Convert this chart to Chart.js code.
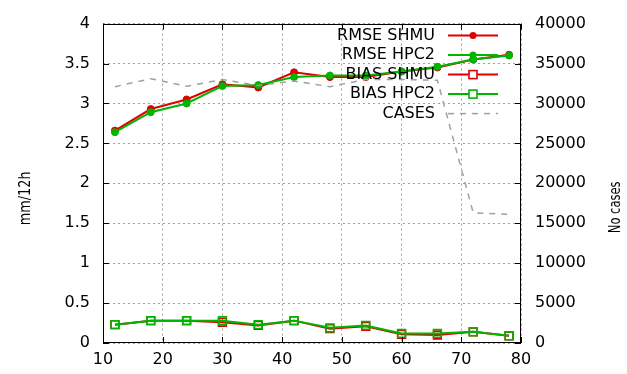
<!DOCTYPE html>
<html>
<head>
<meta charset="utf-8">
<script src="https://cdn.jsdelivr.net/npm/chart.js@4.4.1/dist/chart.umd.min.js"></script>
<style>
  html, body { margin: 0; padding: 0; background: #fff; }
  #wrap { width: 627px; height: 374px; }
</style>
</head>
<body>
<div id="wrap"><canvas id="c" width="627" height="374"></canvas></div>
<script>
const forecastHours = [12, 18, 24, 30, 36, 42, 48, 54, 60, 66, 72, 78];
const rmseShmu = [2.66, 2.93, 3.05, 3.24, 3.20, 3.39, 3.33, 3.33, 3.40, 3.45, 3.55, 3.61];
const rmseHpc2 = [2.64, 2.89, 3.00, 3.22, 3.23, 3.33, 3.35, 3.35, 3.40, 3.46, 3.55, 3.60];
const biasShmu = [0.23, 0.28, 0.28, 0.26, 0.22, 0.28, 0.18, 0.21, 0.11, 0.10, 0.14, 0.09];
const biasHpc2 = [0.23, 0.28, 0.28, 0.28, 0.23, 0.28, 0.19, 0.22, 0.12, 0.12, 0.14, 0.09];
const cases = [32100, 33100, 32150, 33000, 32250, 32800, 32100, 33000, 33000, 32900, 16300, 16100];
const seriesNames = ['RMSE SHMU', 'RMSE HPC2', 'BIAS SHMU', 'BIAS HPC2', 'CASES'];
const xTicks = [10, 20, 30, 40, 50, 60, 70, 80];
const yTicks = [0, 0.5, 1, 1.5, 2, 2.5, 3, 3.5, 4];
const y2Ticks = [0, 5000, 10000, 15000, 20000, 25000, 30000, 35000, 40000];
const yTitle = 'mm/12h';
const y2Title = 'No cases';

const RED = '#e00000', GREEN = '#00b400', GREY = '#a0a0a0';
const FONT = 'DejaVu Sans';

function pts(arr) { return forecastHours.map((x, i) => ({ x: x, y: arr[i] })); }

const styles = [
  { color: RED, point: 'circle', fill: RED, radius: 3.5, axis: 'y', dash: [] },
  { color: GREEN, point: 'circle', fill: GREEN, radius: 3.5, axis: 'y', dash: [] },
  { color: RED, point: 'rect', fill: 'rgba(0,0,0,0)', radius: 5.5, axis: 'y', dash: [] },
  { color: GREEN, point: 'rect', fill: 'rgba(0,0,0,0)', radius: 5.5, axis: 'y', dash: [] },
  { color: GREY, point: false, fill: GREY, radius: 0, axis: 'y2', dash: [6, 6] }
];
const seriesData = [rmseShmu, rmseHpc2, biasShmu, biasHpc2, cases];

const datasets = seriesNames.map((name, i) => ({
  label: name,
  data: pts(seriesData[i]),
  yAxisID: styles[i].axis,
  borderColor: styles[i].color,
  backgroundColor: styles[i].fill,
  borderWidth: i === 4 ? 1.5 : 2,
  borderDash: styles[i].dash,
  pointStyle: styles[i].point,
  pointRadius: styles[i].radius,
  pointBorderWidth: i >= 2 ? 1.6 : 1,
  pointBorderColor: styles[i].color,
  pointBackgroundColor: styles[i].fill,
  tension: 0,
  order: 5 - i
}));

const gnuplotDecor = {
  id: 'gnuplotDecor',
  afterDatasetsDraw(chart) {
    const ctx = chart.ctx;
    const a = chart.chartArea;
    const sx = chart.scales.x, sy = chart.scales.y, sy2 = chart.scales.y2;
    ctx.save();
    // tick marks (inward, mirrored)
    ctx.strokeStyle = '#000';
    ctx.lineWidth = 1;
    ctx.setLineDash([]);
    const TL = 6;
    ctx.beginPath();
    xTicks.forEach(v => {
      const px = Math.round(sx.getPixelForValue(v)) + 0.5;
      ctx.moveTo(px, a.bottom); ctx.lineTo(px, a.bottom - TL);
      ctx.moveTo(px, a.top); ctx.lineTo(px, a.top + TL);
    });
    yTicks.forEach(v => {
      const py = Math.round(sy.getPixelForValue(v)) + 0.5;
      ctx.moveTo(a.left, py); ctx.lineTo(a.left + TL, py);
    });
    y2Ticks.forEach(v => {
      const py = Math.round(sy2.getPixelForValue(v)) + 0.5;
      ctx.moveTo(a.right, py); ctx.lineTo(a.right - TL, py);
    });
    ctx.stroke();
    // frame
    ctx.strokeRect(Math.round(a.left) + 0.5, Math.round(a.top) + 0.5,
      Math.round(a.right - a.left) - 1, Math.round(a.bottom - a.top) - 1);

    // legend (gnuplot style, text right-aligned, sample to the right)
    ctx.font = '16px "' + FONT + '"';
    ctx.textAlign = 'right';
    ctx.textBaseline = 'middle';
    seriesNames.forEach((name, i) => {
      const y = a.top + 12 + i * 19.5;
      const tx = a.right - 86;
      const x1 = a.right - 73, x2 = a.right - 23, xm = (x1 + x2) / 2;
      ctx.fillStyle = '#000';
      ctx.fillText(name, tx, y);
      const st = styles[i];
      ctx.strokeStyle = st.color;
      ctx.lineWidth = i === 4 ? 1.5 : 2;
      ctx.setLineDash(st.dash);
      ctx.beginPath(); ctx.moveTo(x1, y); ctx.lineTo(x2, y); ctx.stroke();
      ctx.setLineDash([]);
      if (st.point === 'circle') {
        ctx.fillStyle = st.color;
        ctx.beginPath(); ctx.arc(xm, y, 3.5, 0, Math.PI * 2); ctx.fill();
      } else if (st.point === 'rect') {
        ctx.lineWidth = 1.6;
        ctx.fillStyle = '#fff';
        ctx.fillRect(xm - 4, y - 4, 8, 8);
        ctx.strokeRect(xm - 4, y - 4, 8, 8);
      }
    });

    // axis titles (rotated, slightly condensed along the text direction)
    ctx.fillStyle = '#000';
    ctx.textAlign = 'center';
    ctx.textBaseline = 'middle';
    ctx.font = '16px "' + FONT + '"';
    ctx.save();
    ctx.translate(26, (a.top + a.bottom) / 2 + 15);
    ctx.rotate(-Math.PI / 2);
    ctx.scale(0.8, 1);
    ctx.fillText(yTitle, 0, 0);
    ctx.restore();
    ctx.save();
    ctx.translate(616, (a.top + a.bottom) / 2 + 24);
    ctx.rotate(-Math.PI / 2);
    ctx.scale(0.72, 1);
    ctx.fillText(y2Title, 0, 0);
    ctx.restore();
    ctx.restore();
  }
};

const tickFont = { family: FONT, size: 16 };

new Chart(document.getElementById('c'), {
  type: 'line',
  data: { datasets: datasets },
  options: {
    responsive: false,
    animation: false,
    devicePixelRatio: 1,
    layout: { padding: { top: 13, left: 0, right: 0, bottom: 0 } },
    plugins: { legend: { display: false }, tooltip: { enabled: false } },
    scales: {
      x: {
        type: 'linear', min: 10, max: 80,
        afterBuildTicks: s => { s.ticks = xTicks.map(v => ({ value: v })); },
        afterFit: s => { s.height = 31; },
        ticks: { font: tickFont, color: '#000', padding: 7, maxRotation: 0, autoSkip: false,
          callback: v => String(v) },
        grid: { color: GREY, lineWidth: 1, drawTicks: false },
        border: { display: false, dash: [2, 3] }
      },
      y: {
        type: 'linear', position: 'left', min: 0, max: 4,
        afterBuildTicks: s => { s.ticks = yTicks.map(v => ({ value: v })); },
        afterFit: s => { s.width = 103; },
        ticks: { font: tickFont, color: '#000', padding: 13, autoSkip: false,
          callback: v => String(v) },
        grid: { color: GREY, lineWidth: 1, drawTicks: false },
        border: { display: false, dash: [2, 3] }
      },
      y2: {
        type: 'linear', position: 'right', min: 0, max: 40000,
        afterBuildTicks: s => { s.ticks = y2Ticks.map(v => ({ value: v })); },
        afterFit: s => { s.width = 106; },
        ticks: { font: tickFont, color: '#000', padding: 14, autoSkip: false,
          callback: v => String(v) },
        grid: { display: false, drawTicks: false },
        border: { display: false }
      }
    }
  },
  plugins: [gnuplotDecor]
});
</script>
</body>
</html>
